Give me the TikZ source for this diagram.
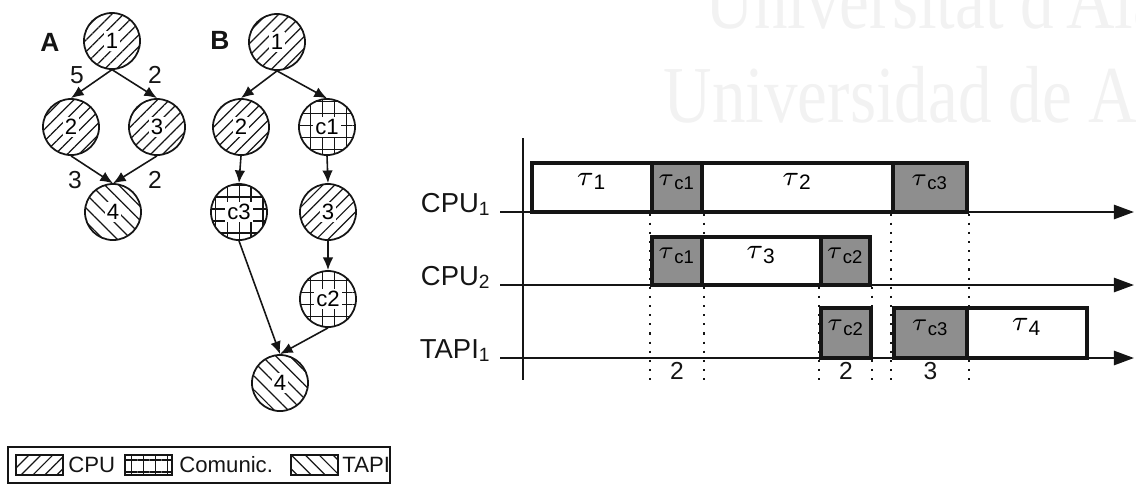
\documentclass[tikz,border=0pt]{standalone}
\usepackage{fontspec}
\setmainfont{Liberation Sans}
\newfontfamily\wmfont[FakeStretch=0.83]{Liberation Serif}
\usetikzlibrary{arrows.meta, patterns.meta, fit, positioning, backgrounds}
\definecolor{ink}  {HTML}{151515}
\definecolor{shade}{HTML}{8E8E8E}
\definecolor{wmark}{HTML}{F2F2F2}
\newcommand\fs[1]{\fontsize{#1}{#1}\selectfont}
\newcommand\nlab[1]{{\setlength\fboxsep{0.6pt}\colorbox{white}{#1}}}
\newcommand\tsk[1]{$\tau$\textsubscript{#1}}
\tikzset{
  pcpu/.style  = {pattern={Lines[angle=45, distance=2.4pt, line width=0.35pt]}, pattern color=ink},
  pcom/.style  = {pattern={Hatch[angle=0, distance=3.4pt, line width=0.35pt]}, pattern color=ink},
  ptapi/.style = {pattern={Lines[angle=-45, distance=2.8pt, line width=0.35pt]}, pattern color=ink},
  gnode/.style = {circle, draw=ink, line width=0.5pt, minimum size=0.56cm,
                  inner sep=0pt, font=\fs{6.3}},
  cpu/.style   = {gnode, pcpu},
  com/.style   = {gnode, pcom},
  tapi/.style  = {gnode, ptapi},
  arr/.style   = {-{Latex[length=3.6pt, width=3pt]}, line width=0.45pt, ink},
  wlbl/.style  = {font=\fs{7}, text=ink, inner sep=0pt},
  glbl/.style  = {font=\bfseries\fs{7.5}, text=ink, inner sep=0pt},
  task/.style  = {draw=ink, line width=0.9pt, fill=white, inner sep=0pt, font=\fs{8.5}},
  comm/.style  = {task, fill=shade, font=\fs{7.5}},
  tarr/.style  = {-{Triangle[length=5.7pt, width=4pt]}, line width=0.7pt, ink},
  vline/.style = {line width=0.7pt, ink},
  dotl/.style  = {dotted, line width=0.6pt, ink},
  rlbl/.style  = {font=\fs{7.8}, text=ink, anchor=base east, inner sep=0pt},
  dur/.style   = {font=\fs{7}, text=ink, anchor=south, inner sep=0pt},
  lsq/.style   = {draw=ink, line width=0.4pt, minimum width=0.47cm,
                  minimum height=0.2cm, inner sep=0pt},
  ltxt/.style  = {font=\fs{6.3}, text=ink, inner sep=0pt},
  wm/.style    = {font=\wmfont\fs{23}, text=wmark, anchor=base west, inner sep=0pt},
}
\begin{document}
\begin{tikzpicture}[x=0.01cm, y=-0.01cm]
  \useasboundingbox (0,0) rectangle (1136,484);

  % watermark
  \begin{scope}
    \clip (0,0) rectangle (1136,484);
    \node[wm] (wm1) at (705,28)  {Universitat d'Alacant};
    \node[wm] (wm2) at (663,122) {Universidad de Alicante};
  \end{scope}

  % graph A
  \node[glbl] (labA) at (50,42) {A};
  \node[cpu]  (a1) at (112,41)  {\nlab{1}};
  \node[cpu]  (a2) at (71,127)  {\nlab{2}};
  \node[cpu]  (a3) at (157,127) {\nlab{3}};
  \node[tapi] (a4) at (113,212) {\nlab{4}};
  \draw[arr] (a1.south) -- (a2.north);
  \draw[arr] (a1.south) -- (a3.north);
  \draw[arr] (a2.south) -- (a4.north);
  \draw[arr] (a3.south) -- (a4.north);
  \node[wlbl] (w12) at (77,75)  {5};
  \node[wlbl] (w13) at (155,75) {2};
  \node[wlbl] (w24) at (75,180) {3};
  \node[wlbl] (w34) at (155,180) {2};

  % graph B
  \node[glbl] (labB) at (220,40) {B};
  \node[cpu]  (b1)  at (277,42)  {\nlab{1}};
  \node[cpu]  (b2)  at (241,127) {\nlab{2}};
  \node[com]  (bc1) at (327,127) {\nlab{c1}};
  \node[com]  (bc3) at (239,212) {\nlab{c3}};
  \node[cpu]  (b3)  at (328,212) {\nlab{3}};
  \node[com]  (bc2) at (328,299) {\nlab{c2}};
  \node[tapi] (b4)  at (280,383) {\nlab{4}};
  \draw[arr] (b1.south)  -- (b2.north);
  \draw[arr] (b1.south)  -- (bc1.north);
  \draw[arr] (b2.south)  -- (bc3.north);
  \draw[arr] (bc1.south) -- (b3.north);
  \draw[arr] (b3.south)  -- (bc2.north);
  \draw[arr] (bc3.south) -- (b4.north);
  \draw[arr] (bc2.south) -- (b4.north);

  % legend
  \node[draw=ink, line width=0.5pt, inner sep=0pt, fit={(8,447) (390,483)}] (leg) {};
  \node[lsq, pcpu]  (lcpu)  at (39.5,465)  {};
  \node[ltxt, right=0.04cm of lcpu]  (tcpu)  {CPU};
  \node[lsq, pcom]  (lcom)  at (148.5,465) {};
  \node[ltxt, right=0.06cm of lcom]  (tcom)  {Comunic.};
  \node[lsq, ptapi] (ltapi) at (314.5,465) {};
  \node[ltxt, right=0.03cm of ltapi] (ttapi) {TAPI};

  % time axes
  \coordinate (ytop) at (523,138);
  \coordinate (ybot) at (523,380);
  \draw[vline] (ytop) -- (ybot);
  \foreach \yy/\row/\lab in {212/1/CPU\textsubscript{1},
                             285/2/CPU\textsubscript{2},
                             358/3/TAPI\textsubscript{1}} {
    \coordinate (ax\row s) at (500,\yy);
    \coordinate (ax\row e) at (1134,\yy);
    \draw[tarr] (ax\row s) -- (ax\row e);
    \node[rlbl] (rl\row) at (492,\yy) {\lab};
  }

  % CPU1
  \node[task, fit={(532,163) (652,212)}]  (t1)  {\tsk{1}};
  \node[comm, fit={(652,163) (702,212)}]  (c1a) {\tsk{c1}};
  \node[task, fit={(702,163) (893,212)}]  (t2)  {\tsk{2}};
  \node[comm, fit={(893,163) (967,212)}]  (c3a) {\tsk{c3}};
  % CPU2
  \node[comm, fit={(652,237) (702,285)}]  (c1b) {\tsk{c1}};
  \node[task, fit={(702,237) (821,285)}]  (t3)  {\tsk{3}};
  \node[comm, fit={(821,237) (870,285)}]  (c2a) {\tsk{c2}};
  % TAPI1
  \node[comm, fit={(821,308) (871,358)}]  (c2b) {\tsk{c2}};
  \node[comm, fit={(894,308) (967,358)}]  (c3b) {\tsk{c3}};
  \node[task, fit={(967,308) (1087,358)}] (t4)  {\tsk{4}};

  % comm durations
  \begin{scope}[on background layer]
    \draw[dotl] (c1a.south west) -- (c1a.south west |- ybot);
    \draw[dotl] (c1a.south east) -- (c1a.south east |- ybot);
    \draw[dotl] (c2a.south west) -- (c2a.south west |- ybot);
    \draw[dotl] (c2a.south east) -- (c2a.south east |- ybot);
    \draw[dotl] (c3a.south west) -- (c3a.south west |- ybot);
    \draw[dotl] (c3a.south east) -- (c3a.south east |- ybot);
  \end{scope}
  \node[dur] (d1) at (c1a.south |- ybot) {2};
  \node[dur] (d2) at (c2b.south |- ybot) {2};
  \node[dur] (d3) at (c3b.south |- ybot) {3};

\end{tikzpicture}
\end{document}
